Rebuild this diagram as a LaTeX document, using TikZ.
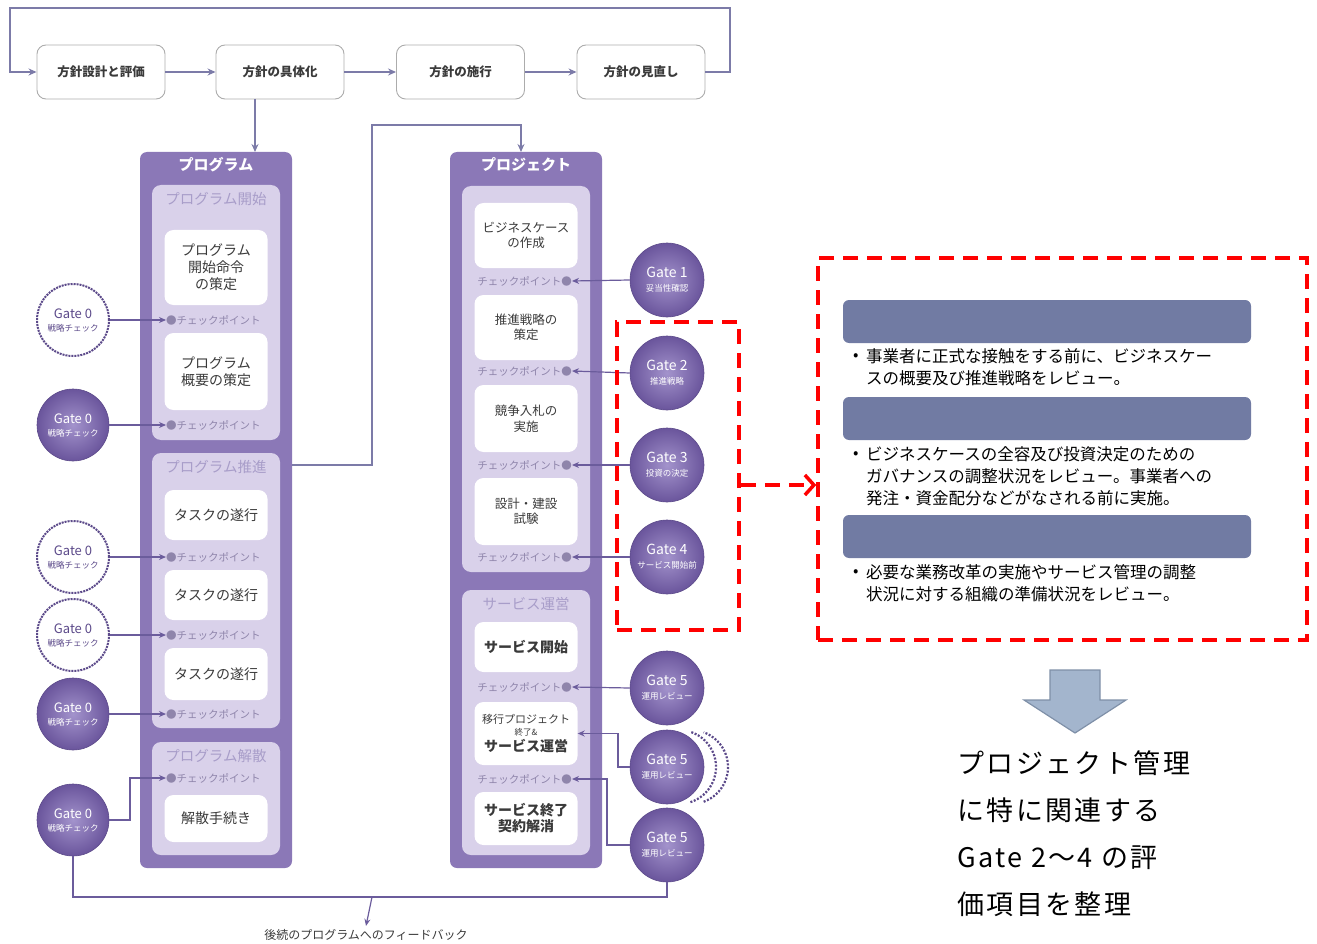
\documentclass[tikz,border=0pt]{standalone}
\usepackage{fontspec}
\setmainfont{Noto Sans CJK JP}
\newfontfamily\bigjp[LetterSpace=9]{Noto Sans CJK JP}
\usetikzlibrary{arrows.meta,calc}
\definecolor{pdark}{HTML}{8B78B7}
\definecolor{plight}{HTML}{D9D1EA}
\definecolor{ptext}{HTML}{A89DC9}
\definecolor{pline}{HTML}{6B5C9C}
\definecolor{gin}{HTML}{A393CC}
\definecolor{gout}{HTML}{6A559C}
\definecolor{gdraw}{HTML}{5C4A8A}
\definecolor{topline}{HTML}{7C7BA8}
\definecolor{barfill}{HTML}{717BA3}
\definecolor{arrfill}{HTML}{A3B5CD}
\definecolor{arrdraw}{HTML}{7F90A8}
\definecolor{wtext}{HTML}{3A3A3A}
\begin{document}
\begin{tikzpicture}[x=1pt,y=-1pt,
  topbox/.style={draw=gray!65, rounded corners=9pt, line width=0.9pt, minimum width=128pt, minimum height=54pt, font=\fontsize{12.5}{15}\selectfont\bfseries, text=wtext},
  bigbox/.style={fill=pdark, rounded corners=7pt, minimum width=152pt, minimum height=716pt},
  hdr/.style={text=white, font=\fontsize{15}{18}\selectfont\bfseries},
  panel/.style={fill=plight, rounded corners=9pt, minimum width=128pt},
  ptitle/.style={text=ptext, font=\fontsize{14.5}{17}\selectfont},
  wbox/.style={fill=white, rounded corners=9pt, minimum width=103pt, align=center, text=wtext, font=\fontsize{14}{17}\selectfont, inner sep=1pt},
  jbox/.style={wbox, font=\fontsize{12.5}{15.5}\selectfont},
  cpl/.style={anchor=west, inner sep=0pt, text=ptext!85!black, font=\fontsize{10.5}{12}\selectfont},
  cpr/.style={anchor=east, inner sep=0pt, text=ptext!85!black, font=\fontsize{10.5}{12}\selectfont},
  gate/.style={circle, draw=gdraw, line width=0.6pt, inner color=gin, outer color=gout, minimum size=74pt, inner sep=0pt, align=center, text=white, font=\fontsize{14}{15}\selectfont},
  gatez/.style={circle, draw=gdraw, line width=0.6pt, inner color=gin, outer color=gout, minimum size=72pt, inner sep=0pt, align=center, text=white, font=\fontsize{13}{14}\selectfont},
  gated/.style={circle, draw=gdraw, densely dotted, line width=2pt, fill=white, minimum size=72pt, inner sep=0pt, align=center, text=gdraw, font=\fontsize{13}{14}\selectfont},
  conn/.style={draw=pline, line width=1.2pt, -{Stealth[length=7pt,width=6pt]}},
  plain/.style={draw=pline, line width=1.2pt},
  dotarc/.style={draw=gdraw, line width=2.2pt, dash pattern=on 2pt off 1.6pt},
  tconn/.style={draw=topline, line width=1.5pt, -{Stealth[length=8pt,width=7pt]}},
  reddash/.style={draw=red, line width=3.5pt, dash pattern=on 15pt off 9pt},
  bar/.style={fill=barfill, rounded corners=6pt, minimum width=408pt, minimum height=43pt},
  btxt/.style={anchor=north west, align=left, inner sep=0pt, font=\fontsize{16.5}{22}\selectfont},
]
\useasboundingbox (0,0) rectangle (1317,944);
\newcommand\gs[1]{\\[-1pt]{\fontsize{8.5}{9}\selectfont #1}}
\newcommand\bul{\makebox[14pt][l]{\hspace{1pt}\raisebox{1.5pt}{\fontsize{16}{16}\selectfont •}}}
\newcommand\ind{\hspace*{14pt}}

% top flow
\node[topbox] (t1) at (101,72) {方針設計と評価};
\node[topbox] (t2) at (280,72) {方針の具体化};
\node[topbox] (t3) at (460.5,72) {方針の施行};
\node[topbox] (t4) at (641,72) {方針の見直し};
\draw[tconn] (t1) -- (t2);
\draw[tconn] (t2) -- (t3);
\draw[tconn] (t3) -- (t4);
\draw[tconn] (t4.east) -- (730,72) -- (730,8) -- (10,8) -- (10,72) -- (t1.west);

% program column
\node[bigbox] (prog) at (216,510) {};
\node[hdr] (proghdr) at (216,165) {プログラム};
\draw[tconn] (255,99) -- (255,152);
\node[panel, minimum height=255pt] (pp1) at (216,312.5) {};
\node[ptitle] (pp1t) at (216,199) {プログラム開始};
\node[wbox, minimum height=75pt] (pw1) at (216,267.5) {プログラム\\開始命令\\の策定};
\node[cpl] (cp1) at (166,320) {●チェックポイント};
\node[wbox, minimum height=77pt] (pw2) at (216,371.5) {プログラム\\概要の策定};
\node[cpl] (cp2) at (166,425) {●チェックポイント};
\node[panel, minimum height=275pt] (pp2) at (216,590.5) {};
\node[ptitle] (pp2t) at (216,467) {プログラム推進};
\node[wbox, minimum height=50pt] (pw3) at (216,515) {タスクの遂行};
\node[cpl] (cp3) at (166,557) {●チェックポイント};
\node[wbox, minimum height=50pt] (pw4) at (216,595) {タスクの遂行};
\node[cpl] (cp4) at (166,635) {●チェックポイント};
\node[wbox, minimum height=52pt] (pw5) at (216,674) {タスクの遂行};
\node[cpl] (cp5) at (166,714) {●チェックポイント};
\node[panel, minimum height=113pt] (pp3) at (216,798.5) {};
\node[ptitle] (pp3t) at (216,756) {プログラム解散};
\node[cpl] (cp6) at (166,778) {●チェックポイント};
\node[wbox, minimum height=47pt] (pw6) at (216,818.5) {解散手続き};

% project column
\node[bigbox] (proj) at (526,510) {};
\node[hdr] (projhdr) at (526,165) {プロジェクト};
\draw[tconn] (292,465) -- (372,465) -- (372,125) -- (521,125) -- (521,152);
\node[panel, minimum height=386pt] (jp1) at (526,379) {};
\node[jbox, minimum height=65pt] (jw1) at (526,235.5) {ビジネスケース\\の作成};
\node[cpr] (jcp1) at (572,281) {チェックポイント●};
\node[jbox, minimum height=65pt] (jw2) at (526,327.5) {推進戦略の\\策定};
\node[cpr] (jcp2) at (572,371) {チェックポイント●};
\node[jbox, minimum height=67pt] (jw3) at (526,418.5) {競争入札の\\実施};
\node[cpr] (jcp3) at (572,465) {チェックポイント●};
\node[jbox, minimum height=67pt] (jw4) at (526,511.5) {設計・建設\\試験};
\node[cpr] (jcp4) at (572,557) {チェックポイント●};
\node[panel, minimum height=265pt] (jp2) at (526,722.5) {};
\node[ptitle] (jp2t) at (526,604) {サービス運営};
\node[jbox, minimum height=50pt, font=\fontsize{14}{17}\selectfont\bfseries] (jw5) at (526,647) {サービス開始};
\node[cpr] (jcp5) at (572,687) {チェックポイント●};
\node[jbox, minimum height=63pt, font=\fontsize{11}{13}\selectfont] (jw6) at (526,733.5) {移行プロジェクト\\[-1pt]{\fontsize{8.5}{9}\selectfont 終了\&}\\[3pt]{\fontsize{14}{15}\selectfont\bfseries サービス運営}};
\node[cpr] (jcp6) at (572,779) {チェックポイント●};
\node[jbox, minimum height=53pt, font=\fontsize{14}{16}\selectfont\bfseries] (jw7) at (526,818.5) {サービス終了\\契約解消};

% feedback
\node[font=\fontsize{12}{14}\selectfont, text=wtext] (fb) at (366,935) {後続のプログラムへのフィードバック};

% left gates
\node[gated] (g0a) at (73,320) {Gate 0\gs{戦略チェック}};
\node[gatez] (g0b) at (73,425) {Gate 0\gs{戦略チェック}};
\node[gated] (g0c) at (73,557) {Gate 0\gs{戦略チェック}};
\node[gated] (g0d) at (73,635) {Gate 0\gs{戦略チェック}};
\node[gatez] (g0e) at (73,714) {Gate 0\gs{戦略チェック}};
\node[gatez] (g0f) at (73,820) {Gate 0\gs{戦略チェック}};
\draw[conn] (g0a.east) -- (cp1.west);
\draw[conn] (g0b.east) -- (cp2.west);
\draw[conn] (g0c.east) -- (cp3.west);
\draw[conn] (g0d.east) -- (cp4.west);
\draw[conn] (g0e.east) -- (cp5.west);
\draw[conn] (g0f.east) -- (130,820) |- (cp6.west);

% right gates
\draw[dotarc] ($(667,767)+(12,0)+(72:37)$) arc[start angle=72, end angle=-72, radius=37];
\draw[dotarc] ($(667,767)+(24,0)+(70:37)$) arc[start angle=70, end angle=-70, radius=37];
\node[gate] (g1) at (667,280) {Gate 1\gs{妥当性確認}};
\node[gate] (g2) at (667,373) {Gate 2\gs{推進戦略}};
\node[gate] (g3) at (667,465) {Gate 3\gs{投資の決定}};
\node[gate] (g4) at (667,557) {Gate 4\gs{サービス開始前}};
\node[gate] (g5a) at (667,688) {Gate 5\gs{運用レビュー}};
\node[gate] (g5b) at (667,767) {Gate 5\gs{運用レビュー}};
\node[gate] (g5c) at (667,845) {Gate 5\gs{運用レビュー}};
\draw[conn] (g1.west) -- (jcp1.east);
\draw[conn] (g2.west) -- (jcp2.east);
\draw[conn] (g3.west) -- (jcp3.east);
\draw[conn] (g4.west) -- (jcp4.east);
\draw[conn] (g5a.west) -- (jcp5.east);
\draw[conn] (g5b.west) -- (618,767) |- (jw6.east);
\draw[conn] (g5c.west) -- (607,845) |- (jcp6.east);
\draw[plain] (g0f.south) -- (73,897) -- (667,897) -- (g5c.south);
\draw[conn] (372,897) -- (fb.north);

% red highlight
\node[reddash, minimum width=122pt, minimum height=308pt] (rs) at (678,476) {};
\node[reddash, minimum width=489pt, minimum height=382pt] (rb) at (1062.5,449) {};
\draw[red, line width=3.5pt, dash pattern=on 15pt off 9pt, -{Straight Barb[length=9pt,width=20pt,line width=3.5pt]}] (rs.east |- 0,485) -- (rb.west |- 0,485);

\node[bar] (b1) at (1047,321.5) {};
\node[bar] (b2) at (1047,418.5) {};
\node[bar] (b3) at (1047,536.5) {};
\node[btxt] (bt1) at (852,348) {\bul 事業者に正式な接触をする前に、ビジネスケー\\\ind スの概要及び推進戦略をレビュー。};
\node[btxt] (bt2) at (852,446) {\bul ビジネスケースの全容及び投資決定のための\\\ind ガバナンスの調整状況をレビュー。事業者への\\\ind 発注・資金配分などがなされる前に実施。};
\node[btxt] (bt3) at (852,564) {\bul 必要な業務改革の実施やサービス管理の調整\\\ind 状況に対する組織の準備状況をレビュー。};

% block arrow
\draw[fill=arrfill, draw=arrdraw, line width=1.2pt] (1050,670) -- (1100,670) -- (1100,700) -- (1126,700) -- (1075,733) -- (1024,700) -- (1050,700) -- cycle;
\node[anchor=north west, align=left, inner sep=0pt, font=\bigjp\fontsize{27}{47}\selectfont] (sum) at (957,750) {プロジェクト管理\\に特に関連する\\Gate 2〜4 の評\\価項目を整理};
\end{tikzpicture}
\end{document}
